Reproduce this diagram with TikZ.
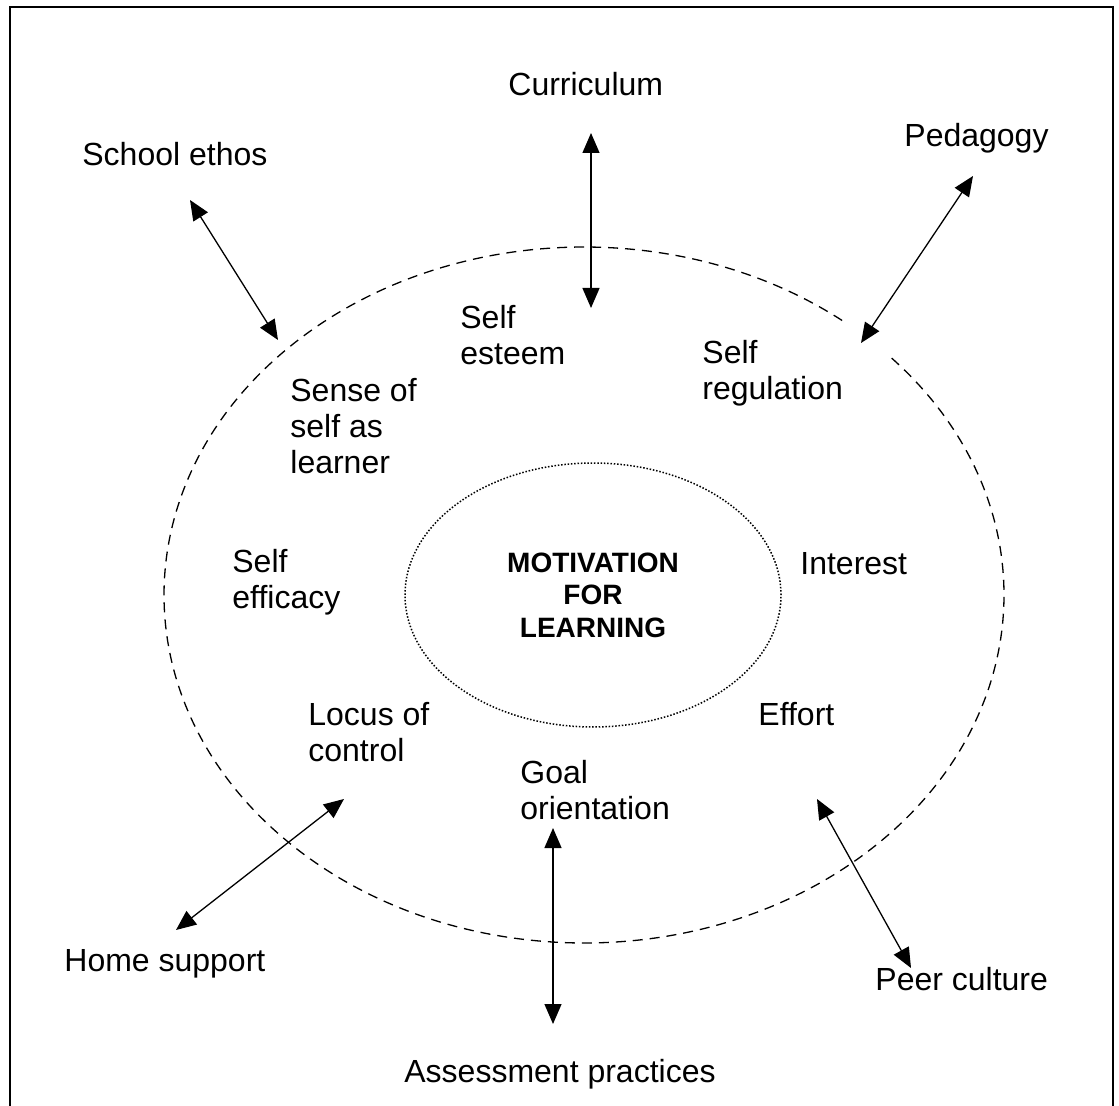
\documentclass[tikz,border=0pt]{standalone}
\usepackage{fontspec}
\setmainfont{Liberation Sans}
\usetikzlibrary{arrows.meta,shapes.geometric}
\begin{document}
\begin{tikzpicture}[x=0.5pt,y=-0.5pt,
  lbl/.style={anchor=north west,inner sep=0pt,align=left,font=\fontsize{16}{18}\selectfont},
  biarrow/.style={{Triangle[length=10pt,width=8.5pt]}-{Triangle[length=10pt,width=8.5pt]},line width=0.65pt},
  rim/.style={line width=0.65pt,dash pattern=on 5pt off 3.5pt},
  core/.style={ellipse,draw,line width=0.75pt,dash pattern=on 0.75pt off 0.9pt,minimum width=188pt,minimum height=132pt,inner sep=0pt,align=center,font=\bfseries\fontsize{14}{16.25}\selectfont}]
\useasboundingbox (0,0) rectangle (1119,1106);
\draw[line width=1pt] (10,1106) -- (10,7) -- (1113,7) -- (1113,1106);

\coordinate (hub) at (584,595);
\draw[rim] (hub) ++(-42.9:420 and 348) arc[start angle=-42.9,end angle=308.9,x radius=420,y radius=348];
\node[core] (motive) at (593,595) {MOTIVATION\\FOR\\LEARNING};

\node[lbl] (curriculum) at (508,72) {Curriculum};
\node[lbl] (ethos) at (82,142) {School ethos};
\node[lbl] (pedagogy) at (904,123) {Pedagogy};
\node[lbl] (esteem) at (460,305) {Self\\esteem};
\node[lbl] (regulation) at (702,340) {Self\\regulation};
\node[lbl] (sense) at (290,378) {Sense of\\self as\\learner};
\node[lbl] (efficacy) at (232,549) {Self\\efficacy};
\node[lbl] (interest) at (800,552) {Interest};
\node[lbl] (locus) at (308,702) {Locus of\\control};
\node[lbl] (effort) at (758,702) {Effort};
\node[lbl] (goal) at (520,760) {Goal\\orientation};
\node[lbl] (home) at (64,949) {Home support};
\node[lbl] (peer) at (875,967) {Peer culture};
\node[lbl] (assess) at (404,1059) {Assessment practices};

\coordinate (curr-a) at (591,133);
\coordinate (curr-b) at (591,308);
\coordinate (ethos-a) at (190,200);
\coordinate (ethos-b) at (278,340);
\coordinate (ped-a) at (973,176);
\coordinate (ped-b) at (861,343);
\coordinate (home-a) at (344,799);
\coordinate (home-b) at (176,930);
\coordinate (assess-a) at (553,828);
\coordinate (assess-b) at (553,1024);
\coordinate (peer-a) at (817,799);
\coordinate (peer-b) at (911,968);

\draw[biarrow] (curr-a) -- (curr-b);
\draw[biarrow] (ethos-a) -- (ethos-b);
\draw[biarrow] (ped-a) -- (ped-b);
\draw[biarrow] (home-a) -- (home-b);
\draw[biarrow] (assess-a) -- (assess-b);
\draw[biarrow] (peer-a) -- (peer-b);
\end{tikzpicture}
\end{document}
